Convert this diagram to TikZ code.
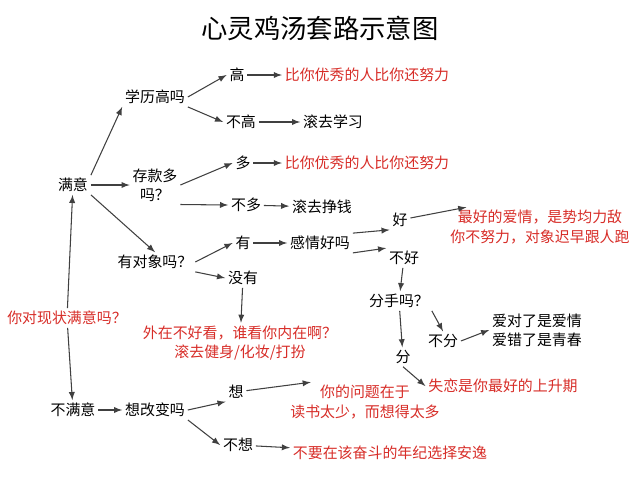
\documentclass[tikz,border=0pt]{standalone}
\usepackage{fontspec}
\setmainfont{Noto Sans CJK SC}
\definecolor{redtxt}{RGB}{215,45,40}
\begin{document}
\begin{tikzpicture}[x=0.02cm,y=-0.02cm,
	font=\fontsize{8.5}{11}\selectfont,
	arr/.style={->,>=latex,semithick,black!75},
	red/.style={text=redtxt,align=center},
	inner sep=1.5pt]
	\useasboundingbox (0,0) rectangle (640,501);
	\node[font=\fontsize{15}{17}\selectfont] (title) at (320,28) {心灵鸡汤套路示意图};
	
	%root
	\node[red] (root) at (67,318) {你对现状满意吗？};
	\node (yes) at (73,185) {满意};
	\node (no) at (73,410) {不满意};
	\draw[arr] (root)--(yes);
	\draw[arr] (root)--(no);
	
	%education
	\node (edu) at (155,97) {学历高吗};
	\node (eduhi) at (237,75) {高};
	\node[red] (eduhir) at (367,75) {比你优秀的人比你还努力};
	\node (edulo) at (241,122) {不高};
	\node (edulor) at (333,122) {滚去学习};
	\draw[arr] (yes.north east)--(edu.south west);
	\draw[arr] (edu.east)--(eduhi.west);
	\draw[arr] (edu.south east)--(edulo.west);
	\draw[arr] (eduhi)--(eduhir);
	\draw[arr] (edulo)--(edulor);
	
	%savings
	\node[align=center] (sav) at (155,185) {存款多\\吗？};
	\node (savhi) at (243,163) {多};
	\node[red] (savhir) at (367,163) {比你优秀的人比你还努力};
	\node (savlo) at (246,205) {不多};
	\node (savlor) at (322,207) {滚去挣钱};
	\draw[arr] (yes)--(sav);
	\draw[arr] (sav.east)--(savhi.west);
	\draw[arr] (sav.south east)--(savlo.west);
	\draw[arr] (savhi)--(savhir);
	\draw[arr] (savlo)--(savlor);
	
	%partner
	\node (prt) at (155,262) {有对象吗？};
	\node (has) at (243,243) {有};
	\node (good) at (320,243) {感情好吗};
	\node (fine) at (400,220) {好};
	\node[red] (finer) at (540,227) {最好的爱情，是势均力敌\\你不努力，对象迟早跟人跑};
	\node (bad) at (404,258) {不好};
	\node (none) at (243,278) {没有};
	\node[red] (noner) at (240,343) {外在不好看，谁看你内在啊？\\滚去健身/化妆/打扮};
	\draw[arr] (yes.south east)--(prt.north);
	\draw[arr] (prt.east)--(has.west);
	\draw[arr] (prt.south east)--(none.west);
	\draw[arr] (has)--(good);
	\draw[arr] (good.north east)--(fine.south west);
	\draw[arr] (good.south east)--(bad.north west);
	\draw[arr] (fine)--(finer.165);
	\draw[arr] (none)--(noner);
	
	%breakup
	\node (split) at (399,301) {分手吗？};
	\node (stay) at (443,341) {不分};
	\node[align=center] (stayr) at (537,330) {爱对了是爱情\\爱错了是青春};
	\node (leave) at (403,357) {分};
	\node[red] (leaver) at (503,386) {失恋是你最好的上升期};
	\draw[arr] (bad)--(split);
	\draw[arr] (split.south east)--(stay.north);
	\draw[arr] (stay.east)--(stayr.west);
	\draw[arr] (split)--(leave);
	\draw[arr] (leave.south)--(leaver.west);
	
	%change
	\node (chg) at (155,410) {想改变吗};
	\node (want) at (236,392) {想};
	\node[red] (wantr) at (365,402) {你的问题在于\\读书太少，而想得太多};
	\node (nowant) at (238,445) {不想};
	\node[red] (nowantr) at (390,453) {不要在该奋斗的年纪选择安逸};
	\draw[arr] (no)--(chg);
	\draw[arr] (chg.east)--(want.south west);
	\draw[arr] (chg.south east)--(nowant.west);
	\draw[arr] (want)--(wantr.160);
	\draw[arr] (nowant)--(nowantr);
\end{tikzpicture}
\end{document}
